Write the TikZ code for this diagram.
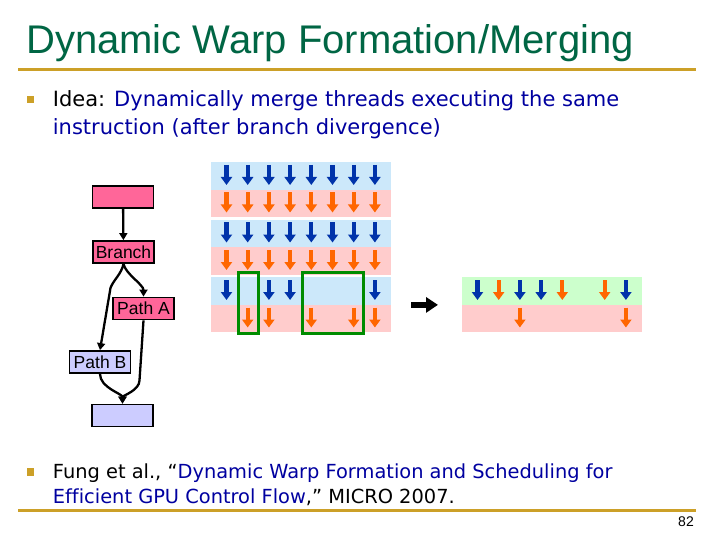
\documentclass[tikz,border=0pt]{standalone}
\usepackage{fontspec}
\setmainfont{DejaVu Sans}[Ligatures=NoCommon]
\newfontfamily\arialfont{Liberation Sans}
\usepackage{xcolor}
\usetikzlibrary{arrows.meta, positioning, calc}

\definecolor{titlegreen}{RGB}{0,102,68}
\definecolor{rulegold}{RGB}{204,160,40}
\definecolor{textblue}{RGB}{0,0,160}
\definecolor{cfgpink}{RGB}{255,102,153}
\definecolor{cfglav}{RGB}{204,204,255}
\definecolor{bandblue}{RGB}{204,232,250}
\definecolor{bandpink}{RGB}{255,204,204}
\definecolor{bandgreen}{RGB}{204,255,204}
\definecolor{thrblue}{RGB}{0,51,170}
\definecolor{throrange}{RGB}{255,102,0}
\definecolor{selgreen}{RGB}{0,140,0}

\begin{document}
\begin{tikzpicture}[
  x=1pt, y=-1pt,
  cfgbox/.style  = {draw, line width=1.8pt, minimum width=61pt, minimum height=22pt,
                    inner sep=0pt, font=\arialfont\fontsize{17.5}{17.5}\selectfont},
  flow/.style    = {line width=2.3pt, -{Triangle[width=8pt,length=7pt]}},
  band/.style    = {minimum width=180pt, minimum height=27.5pt, inner sep=0pt,
                    anchor=north west},
  thr/.style     = {line width=4.2pt, -{Triangle[width=11pt,length=8pt]}},
  selbox/.style  = {draw=selgreen, line width=3pt},
  bigarr/.style  = {line width=6pt, -{Triangle[width=15pt,length=12pt]}},
  txt/.style     = {anchor=base west, inner sep=0pt, font=\fontsize{21}{25}\selectfont},
  reftxt/.style  = {txt, font=\fontsize{19.4}{25}\selectfont},
  bul/.style     = {fill=rulegold, minimum size=7.5pt, inner sep=0pt},
]
\useasboundingbox[fill=white] (0,0) rectangle (720,540);

%% ── TITLE ─────────────────────────────────────────────────────────────────
\node[anchor=base west, inner sep=0pt, text=titlegreen,
      font=\arialfont\fontsize{40}{40}\selectfont]
      (title) at (26,53.5) {Dynamic Warp Formation/Merging};
\draw[rulegold, line width=3pt] (18,70) -- (696,70);

%% ── IDEA ──────────────────────────────────────────────────────────────────
\node[bul] (bul1) at (30.5,99.7) {};
\node[txt] (idea1) at (52.7,106.7)
     {Idea: \textcolor{textblue}{Dynamically merge threads executing the same}};
\node[txt] (idea2) at (52.7,134.3)
     {\textcolor{textblue}{instruction (after branch divergence)}};

%% ── CONTROL FLOW ──────────────────────────────────────────────────────────
\node[cfgbox, fill=cfgpink] (entry)  at (123,197)   {};
\node[cfgbox, fill=cfgpink] (branch) at (123.5,252) {Branch};
\node[cfgbox, fill=cfgpink] (pathA)  at (143.5,308.5) {Path A};
\node[cfgbox, fill=cfglav]  (pathB)  at (100,362)   {Path B};
\node[cfgbox, fill=cfglav]  (join)   at (122.5,415.5) {};

\draw[flow] (entry) -- (branch);
\draw[flow] (branch.south) .. controls +(2,10) and +(0,-12) .. (pathA.north);
\draw[flow] (branch.south) .. controls +(-2,10) and +(3,-8) .. ++(-13,24)
            -- (pathB.north);
\draw[flow] (pathA.south) -- ++(-4,60) .. controls +(0,10) and +(0,-8) .. (join.north);
\draw[flow] (pathB.south) .. controls +(0,14) and +(0,-10) .. (join.north);

%% ── WARPS BEFORE MERGING ──────────────────────────────────────────────────
\foreach \k/\y in {1/162, 2/219.5, 3/277} {
  \node[band, fill=bandblue] (w\k-up) at (211,\y) {};
  \node[band, fill=bandpink] (w\k-dn) at (211,\y+27.5) {};
}
\foreach \y in {162, 219.5} {
  \foreach \i in {0,...,7} {
    \draw[thr, thrblue]   (226.5+21.2*\i, \y+3)    -- ++(0,20);
    \draw[thr, throrange] (226.5+21.2*\i, \y+30.5) -- ++(0,20);
  }
}
\foreach \i in {0,2,3,7}
  \draw[thr, thrblue]   (226.5+21.2*\i, 280)   -- ++(0,20);
\foreach \i in {1,2,4,6,7}
  \draw[thr, throrange] (226.5+21.2*\i, 307.5) -- ++(0,20);

\draw[selbox] (238,272.5) rectangle (258,333.5);
\draw[selbox] (302,272.5) rectangle (363,333.5);

%% ── MERGED WARP ───────────────────────────────────────────────────────────
\node[band, fill=bandgreen] (m-up) at (462,277)   {};
\node[band, fill=bandpink]  (m-dn) at (462,304.5) {};
\foreach \i in {0,2,3,7}
  \draw[thr, thrblue]   (477.5+21.2*\i, 280)   -- ++(0,20);
\foreach \i in {1,4,6}
  \draw[thr, throrange] (477.5+21.2*\i, 280)   -- ++(0,20);
\foreach \i in {2,7}
  \draw[thr, throrange] (477.5+21.2*\i, 307.5) -- ++(0,20);

\draw[bigarr, shorten <=20pt, shorten >=24pt] (w3-up.south east) -- (m-up.south west);

%% ── REFERENCE ─────────────────────────────────────────────────────────────
\node[bul] (bul2) at (30.5,472) {};
\node[reftxt] (ref1) at (52.7,478.3)
     {Fung et al., “\textcolor{textblue}{Dynamic Warp Formation and Scheduling for}};
\node[reftxt] (ref2) at (52.7,503.3)
     {\textcolor{textblue}{Efficient GPU Control Flow},” MICRO 2007.};
\draw[rulegold, line width=3pt] (18,510) -- (696,510);
\node[anchor=base east, inner sep=0pt, font=\arialfont\fontsize{14}{14}\selectfont]
      (pgno) at (694,526.5) {82};

\end{tikzpicture}
\end{document}
